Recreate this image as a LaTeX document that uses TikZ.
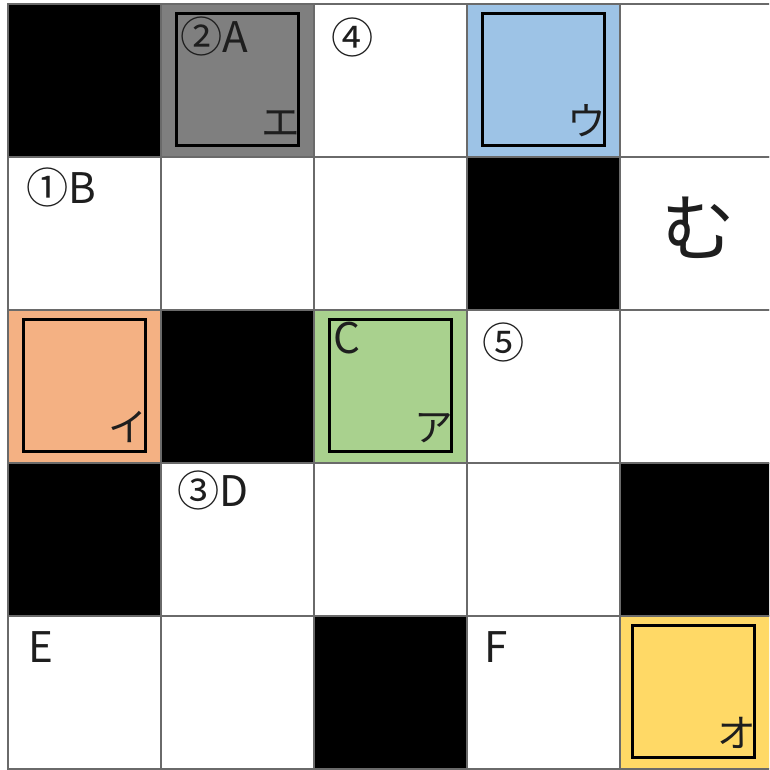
\documentclass[tikz,border=0pt]{standalone}
\usepackage{fontspec}
\setmainfont{Noto Sans CJK JP}
\usetikzlibrary{positioning}
\definecolor{gridline}{HTML}{6A6A6A}
\definecolor{ink}{HTML}{1E1E1E}
\definecolor{cellgray}{HTML}{7F7F7F}
\definecolor{cellblue}{HTML}{9DC3E6}
\definecolor{cellorange}{HTML}{F4B183}
\definecolor{cellgreen}{HTML}{A9D18E}
\definecolor{cellyellow}{HTML}{FFD966}
\tikzset{
  cell/.style={draw=gridline, line width=.6pt, minimum size=15.3mm,
    inner sep=0pt, outer sep=0pt},
  open/.style={cell, fill=white},
  wall/.style={cell, fill=black},
  graycell/.style={cell, fill=cellgray},
  bluecell/.style={cell, fill=cellblue},
  orangecell/.style={cell, fill=cellorange},
  greencell/.style={cell, fill=cellgreen},
  yellowcell/.style={cell, fill=cellyellow},
  frame/.style={draw=black, line width=1pt, minimum width=12.2mm,
    minimum height=13.2mm, inner sep=0pt, outer sep=0pt},
  tag/.style={font=\fontsize{12}{12}\selectfont, text=ink, inner sep=0pt,
    anchor=base west},
  kana/.style={font=\fontsize{11}{11}\selectfont, text=ink, inner sep=0pt},
  goal/.style={font=\fontsize{21}{21}\selectfont, text=ink, inner sep=0pt}
}
\newcommand{\KanaTag}[3]{%
  \node[kana, above left=0.8mm and -0.2mm of #2.south east] (#1) {#3};
}

\begin{document}
\begin{tikzpicture}[x=0.1mm,y=-0.1mm]
  \useasboundingbox (0,0) rectangle (769,770);
  \clip (0,0) rectangle (769,770);

  % ------------------------------------------------------------------
  % board: 5 x 5 cells
  \foreach \c/\r/\s in {0/0/wall, 1/0/graycell, 2/0/open, 3/0/bluecell, 4/0/open,
                        0/1/open, 1/1/open, 2/1/open, 3/1/wall, 4/1/open,
                        0/2/orangecell, 1/2/wall, 2/2/greencell, 3/2/open, 4/2/open,
                        0/3/wall, 1/3/open, 2/3/open, 3/3/open, 4/3/wall,
                        0/4/open, 1/4/open, 2/4/wall, 3/4/open, 4/4/yellowcell}
    \node[\s] (c\c\r) at (84.5+153*\c, 80.5+153*\r) {};

  % ------------------------------------------------------------------
  % framed cells
  \node[frame, yshift=0.1mm] (fe) at (c10) {};
  \node[frame, yshift=0.1mm] (fu) at (c30) {};
  \node[frame, yshift=0.1mm] (fi) at (c02) {};
  \node[frame, yshift=0.1mm] (fa) at (c22) {};
  \node[frame, xshift=-0.3mm, yshift=0.1mm] (fo) at (c44) {};

  \KanaTag{ke}{fe}{エ}
  \KanaTag{ku}{fu}{ウ}
  \KanaTag{ki}{fi}{イ}
  \KanaTag{ka}{fa}{ア}
  \KanaTag{ko}{fo}{オ}

  % ------------------------------------------------------------------
  % labels
  \node[tag] (lA) at (180,52) {②A};
  \node[tag] (l4) at (331,53) {④};
  \node[tag] (lB) at (26,203) {①B};
  \node[tag] (lC) at (333,353) {C};
  \node[tag] (l5) at (482,358) {⑤};
  \node[tag] (lD) at (177,506) {③D};
  \node[tag] (lE) at (28,662) {E};
  \node[tag] (lF) at (484,662) {F};
  \node[goal] (mu) at (698,228) {む};
\end{tikzpicture}
\end{document}
